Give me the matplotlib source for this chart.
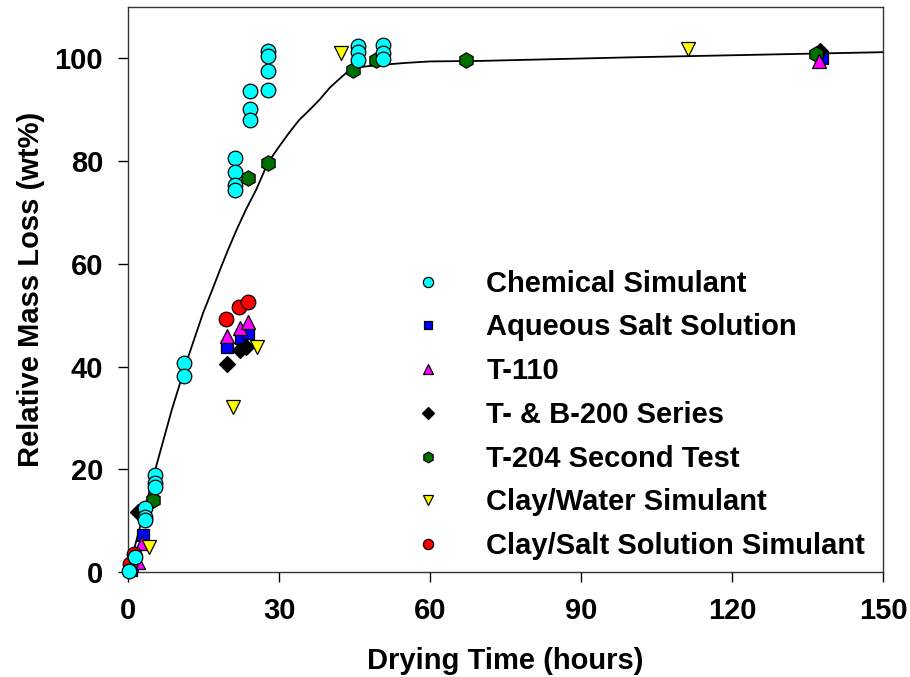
import matplotlib
matplotlib.use("Agg")
import matplotlib.pyplot as plt

# Chemical Simulant
chem_t = [0.1, 1.4, 3.4, 3.4, 3.4, 5.4, 5.4, 5.4, 11.2, 11.2, 21.3, 21.3, 21.3, 21.3,
          24.3, 24.3, 24.3, 27.8, 27.8, 27.8, 27.8, 45.6, 45.6, 45.6, 50.7, 50.7, 50.7]
chem_w = [0.1, 3.0, 12.5, 10.8, 10.1, 18.9, 17.3, 16.5, 40.7, 38.1, 80.6, 77.8, 75.4, 74.3,
          93.6, 90.1, 88.0, 101.4, 100.5, 97.5, 93.8, 102.4, 101.2, 99.6, 102.5, 101.0, 99.8]

# Aqueous Salt Solution
salt_t = [0.5, 2.9, 19.6, 22.4, 23.9, 137.8]
salt_w = [0.3, 7.2, 43.9, 45.6, 46.6, 100.1]

# T-110
t110_t = [2.0, 2.7, 19.6, 22.2, 23.9, 137.2]
t110_w = [2.0, 5.6, 45.9, 47.5, 48.7, 99.4]

# T- & B-200 Series
tb200_t = [0.3, 1.9, 19.6, 22.2, 23.5, 137.4]
tb200_w = [0.5, 11.6, 40.5, 43.3, 43.9, 101.4]

# T-204 Second Test
t204_t = [0.5, 5.0, 23.9, 27.8, 44.6, 49.3, 67.2, 136.6]
t204_w = [1.0, 14.0, 76.7, 79.7, 97.7, 99.6, 99.6, 100.9]

# Clay/Water Simulant
clay_water_t = [4.2, 20.9, 25.7, 42.3, 111.2]
clay_water_w = [4.9, 32.1, 43.8, 101.0, 101.9]

# Clay/Salt Solution Simulant
clay_salt_t = [0.3, 1.2, 19.4, 22.1, 23.8]
clay_salt_w = [1.5, 3.5, 49.3, 51.6, 52.5]

# fitted curve
fit_t = [0, 5.4, 8.7, 12.0, 14.9, 16.6, 18.3, 19.9, 21.6, 23.5, 25.5, 27.8, 30.0,
         32.0, 34.0, 36.1, 38.1, 40.1, 42.0, 43.4, 44.6, 47.0, 50.0, 55.0, 60.0,
         70.0, 100.0, 150.0]
fit_w = [0, 19.9, 31.6, 42.0, 50.4, 54.6, 58.9, 62.8, 66.7, 70.7, 74.5, 79.7, 82.8,
         85.5, 88.0, 90.0, 92.0, 94.3, 96.0, 97.2, 98.0, 98.4, 98.7, 99.1, 99.4,
         99.5, 100.2, 101.2]

x_ticks = [0, 30, 60, 90, 120, 150]
y_ticks = [0, 20, 40, 60, 80, 100]

plt.rcParams["font.family"] = "Liberation Sans"
plt.rcParams["font.weight"] = "bold"
plt.rcParams["font.size"] = 21

fig = plt.figure(figsize=(9.1, 6.77), dpi=100)
ax = fig.add_axes([0.1407, 0.1551, 0.8296, 0.8346])

ax.plot(fit_t, fit_w, color="black", linewidth=1.3, zorder=1)

series = [
    (chem_t, chem_w, "Chemical Simulant", "o", "#00ffff", 10.5, 8),
    (salt_t, salt_w, "Aqueous Salt Solution", "s", "#0000ff", 9, 3),
    (t110_t, t110_w, "T-110", "^", "#ff00ff", 10, 5),
    (tb200_t, tb200_w, "T- & B-200 Series", "D", "black", 8.5, 4),
    (t204_t, t204_w, "T-204 Second Test", "h", "#007000", 11, 4.5),
    (clay_water_t, clay_water_w, "Clay/Water Simulant", "v", "#ffff00", 10, 6),
    (clay_salt_t, clay_salt_w, "Clay/Salt Solution Simulant", "o", "#ff0000", 10.5, 7),
]
for t, w, name, mk, col, ms, z in series:
    ax.plot(t, w, linestyle="none", marker=mk, markersize=ms, markerfacecolor=col,
            markeredgecolor="black", markeredgewidth=0.9, label=name, zorder=z,
            clip_on=False)

ax.set_xlim(0, 150)
ax.set_ylim(0, 110)
ax.set_xticks(x_ticks)
ax.set_yticks(y_ticks)
ax.tick_params(direction="out", length=7, width=1, pad=11)
for s in ax.spines.values():
    s.set_linewidth(1)
    s.set_color("#333333")

ax.set_xlabel("Drying Time (hours)", fontweight="bold", labelpad=16)
ax.set_ylabel("Relative Mass Loss (wt%)", fontweight="bold", labelpad=7)

ax.legend(loc="upper left", bbox_to_anchor=(0.378, 0.535), frameon=False,
          markerscale=0.7, handlelength=1.0, handletextpad=1.5,
          labelspacing=0.54, borderpad=0, borderaxespad=0, numpoints=1,
          prop={"weight": "bold", "size": 21})

fig.savefig("out.png", dpi=100)
